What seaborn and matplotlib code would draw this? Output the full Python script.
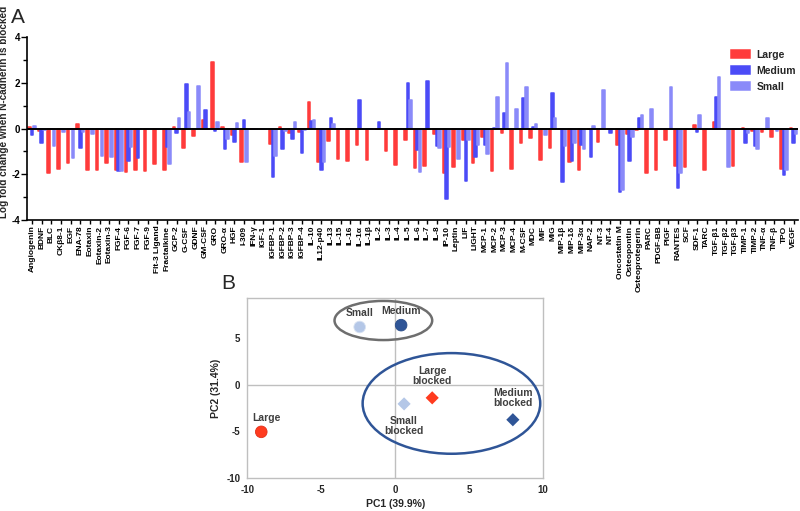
import pandas as pd
import numpy as np
import matplotlib
matplotlib.use('Agg')
import matplotlib.pyplot as plt
from matplotlib.patches import Ellipse
import seaborn as sns

# cytokine array data (log fold change when N-cadherin is blocked)
cytokines = ['Angiogenin', 'BDNF', 'BLC', 'CKβ8-1', 'EGF', 'ENA-78', 'Eotaxin', 'Eotaxin-2',
             'Eotaxin-3', 'FGF-4', 'FGF-6', 'FGF-7', 'FGF-9', 'Flt-3 Ligand', 'Fractalkine',
             'GCP-2', 'G-CSF', 'GDNF', 'GM-CSF', 'GRO', 'GRO-α', 'HGF', 'I-309', 'IFN-γ',
             'IGF-1', 'IGFBP-1', 'IGFBP-2', 'IGFBP-3', 'IGFBP-4', 'IL-10', 'IL12-p40', 'IL-13',
             'IL-15', 'IL-16', 'IL-1α', 'IL-1β', 'IL-2', 'IL-3', 'IL-4', 'IL-5', 'IL-6', 'IL-7',
             'IL-8', 'IP-10', 'Leptin', 'LIF', 'LIGHT', 'MCP-1', 'MCP-2', 'MCP-3', 'MCP-4',
             'M-CSF', 'MDC', 'MIF', 'MIG', 'MIP-1β', 'MIP-1δ', 'MIP-3α', 'NAP-2', 'NT-3', 'NT-4',
             'Oncostatin M', 'Osteopontin', 'Osteoprotegerin', 'PARC', 'PDGF-BB', 'PlGF',
             'RANTES', 'SCF', 'SDF-1', 'TARC', 'TGF-β1', 'TGF-β2', 'TGF-β3', 'TIMP-1', 'TIMP-2',
             'TNF-α', 'TNF-β', 'TPO', 'VEGF']

large = [0.05, -0.1, -1.95, -1.75, -1.5, 0.2, -1.8, -1.8, -1.5, -1.8, -1.9, -1.8, -1.85, -1.53,
         -1.8, 0.05, -0.85, -0.32, 0.37, 2.9, 0.08, -0.3, -1.45, 0, 0, -0.67, 0.05, -0.2, -0.15,
         1.17, -1.45, -0.55, -1.32, -1.42, -0.7, -1.36, 0, -0.98, -1.6, -0.52, -1.72, -1.63,
         -0.22, -1.93, -1.7, -0.5, -1.5, -0.38, -1.85, -0.2, -1.78, -0.62, -0.43, -1.38, -0.85,
         0, -1.45, -1.8, -0.04, -0.6, 0, -0.72, -0.26, -0.05, -1.96, -1.8, -0.5, -1.62, -1.7,
         0.16, -1.8, 0.3, 0, -1.62, 0.03, -0.12, -0.15, -0.38, -1.75, 0.04]
medium = [-0.3, -0.65, 0, 0, 0, -0.85, 0, 0, 0, -1.85, -1.43, -1.3, 0, 0, -0.83, -0.2, 1.95, 0,
          0.8, -0.12, -0.88, -0.58, 0.37, 0, 0, -2.1, -0.9, -0.45, -1.08, 0.35, -1.8, 0.45, 0, 0,
          1.23, 0, 0.28, 0, 0, 1.98, -0.95, 2.08, -0.77, -3.1, 0, -2.3, -1.25, -0.74, 0.03, 0.68,
          0, 1.33, 0.05, 0, 1.57, -2.32, -1.4, -0.72, -1.25, 0, -0.2, -2.77, -1.42, 0.47, 0, 0,
          0, -2.58, 0, -0.14, 0, 1.4, 0, 0, -0.62, -0.77, 0, 0, -2.02, -0.62]
small = [0.1, -0.05, -0.75, -0.15, -1.3, -0.15, -0.25, -1.2, -1.25, -1.85, -0.8, 0, 0, 0, -1.57,
         0.47, 0.72, 1.88, 0, 0.28, -0.45, 0.22, -1.45, 0, 0, -1.2, -0.1, 0.3, -0.08, 0.37,
         -1.45, 0.2, 0, 0, 0, 0, 0, 0, 0, 1.25, -1.9, 0, -0.85, -0.8, -1.35, -0.5, -0.7, -1.13,
         1.4, 2.88, 0.87, 1.8, 0.2, -0.3, 0.47, -0.77, -0.62, -0.9, 0.1, 1.7, 0, -2.67, -0.38,
         0.57, 0.87, 0, 1.8, -1.93, 0, 0.6, 0, 2.26, -1.68, 0, -0.2, -0.88, 0.48, -0.12, -1.83,
         -0.22]

sizes = ['Large', 'Medium', 'Small']
bar_colors = {'Large': '#FF3B3B', 'Medium': '#4B4BF7', 'Small': '#8A8AF9'}

# PCA data
pca_size = ['Small', 'Medium', 'Large', 'Small', 'Medium', 'Large']
pca_state = ['control', 'control', 'control', 'blocked', 'blocked', 'blocked']
pc1 = [-2.4, 0.4, -9.05, 0.6, 7.95, 2.5]
pc2 = [6.2, 6.4, -5.05, -2.05, -3.75, -1.4]
pca_text = ['Small', 'Medium', 'Large', 'Small\nblocked', 'Medium\nblocked', 'Large\nblocked']
pca_colors = {'Small': '#B4C7E7', 'Medium': '#2F5597', 'Large': '#FF3B1F'}

sns.set_theme(style='ticks')
plt.rcParams['font.family'] = ['Liberation Sans', 'DejaVu Sans']
plt.rcParams['axes.unicode_minus'] = False

df = pd.DataFrame({
    'cytokine': cytokines * 3,
    'value': large + medium + small,
    'size': ['Large'] * len(cytokines) + ['Medium'] * len(cytokines) + ['Small'] * len(cytokines),
})

fig = plt.figure(figsize=(8, 5.11), dpi=100)

# ---------------- panel A ----------------
ax1 = fig.add_axes([0.034, 0.5695, 0.964, 0.358])
sns.barplot(data=df, x='cytokine', y='value', hue='size', order=cytokines, hue_order=sizes,
            palette=bar_colors, saturation=1, width=0.8, errorbar=None, ax=ax1)
for p in ax1.patches:
    p.set_edgecolor(p.get_facecolor())
    p.set_linewidth(1.1)
    p.set_joinstyle('round')

ax1.axhline(0, color='black', lw=1.4, zorder=5)
ax1.set_ylim(-4, 4)
ax1.set_xlim(-0.5, len(cytokines) - 0.5)
ax1.set_yticks([-4, -2, 0, 2, 4])
ax1.set_yticks([-3, -1, 1, 3], minor=True)
sns.despine(ax=ax1)
for s in ['left', 'bottom']:
    ax1.spines[s].set_linewidth(1.2)
    ax1.spines[s].set_color('black')
ax1.tick_params(axis='both', which='both', direction='out', width=1, colors='black')
ax1.tick_params(axis='x', length=3, pad=1)
ax1.tick_params(axis='y', which='major', length=4, pad=1)
ax1.tick_params(axis='y', which='minor', length=3)
ax1.set_xticks(range(len(cytokines)))
ax1.set_xticklabels(cytokines, rotation=90, fontsize=6, fontweight='bold')
for t in ax1.get_yticklabels():
    t.set_fontsize(7)
    t.set_fontweight('bold')
ax1.set_xlabel('')
ax1.set_ylabel('Log fold change when N-cadherin is blocked', fontsize=7.2, fontweight='bold')
ax1.yaxis.set_label_coords(-0.023, 0.59)

handles, labels = ax1.get_legend_handles_labels()
ax1.legend(handles, labels, loc='upper left', bbox_to_anchor=(0.9, 0.98), frameon=False,
           prop={'weight': 'bold', 'size': 7.5}, handlelength=1.9, handleheight=0.8,
           labelspacing=0.55, handletextpad=0.6)
fig.text(0.014, 0.965, 'A', fontsize=15, va='center')

# ---------------- panel B ----------------
ax2 = fig.add_axes([0.309, 0.0646, 0.37, 0.352])
pca = pd.DataFrame({'pc1': pc1, 'pc2': pc2, 'size': pca_size, 'state': pca_state})
ax2.axhline(0, color='#BFBFBF', lw=1, zorder=0)
ax2.axvline(0, color='#BFBFBF', lw=1, zorder=0)
sns.scatterplot(data=pca[pca.state == 'control'], x='pc1', y='pc2', hue='size',
                palette=pca_colors, marker='o', s=70, linewidth=0.6,
                edgecolor=None, legend=False, ax=ax2, zorder=3)
sns.scatterplot(data=pca[pca.state == 'blocked'], x='pc1', y='pc2', hue='size',
                palette=pca_colors, marker='D', s=45, linewidth=0, legend=False, ax=ax2,
                zorder=3)
ax2.collections[0].set_edgecolor(['#D8E2F2', '#2A4C88', '#E0301A'])

ax2.add_patch(Ellipse((-0.8, 6.9), 6.6, 4.2, fill=False, ec='#6E6E6E', lw=1.8))
ax2.add_patch(Ellipse((3.8, -2.0), 12.0, 10.8, fill=False, ec='#2F5597', lw=1.8))

offsets = [(0, 1.55), (0, 1.55), (0.35, 1.45), (0, -2.4), (0, 2.3), (0, 2.35)]
for x, y, txt, (dx, dy) in zip(pc1, pc2, pca_text, offsets):
    ax2.text(x + dx, y + dy, txt, ha='center', va='center', fontsize=7.5, fontweight='bold',
             color='#404040', linespacing=1.0)

ax2.set_xlim(-10, 10)
ax2.set_ylim(-10, 9.3)
ax2.set_xticks([-10, -5, 0, 5, 10])
ax2.set_yticks([-10, -5, 0, 5])
for s in ax2.spines.values():
    s.set_color('#BFBFBF')
    s.set_linewidth(1)
ax2.tick_params(length=0, pad=5, labelsize=7)
for t in ax2.get_xticklabels() + ax2.get_yticklabels():
    t.set_fontweight('bold')
ax2.set_xlabel('PC1 (39.9%)', fontsize=7.5, fontweight='bold', labelpad=3)
ax2.set_ylabel('PC2 (31.4%)', fontsize=7.5, fontweight='bold', labelpad=4)
fig.text(0.276, 0.445, 'B', fontsize=15, va='center')

plt.savefig('out.png', dpi=100)
